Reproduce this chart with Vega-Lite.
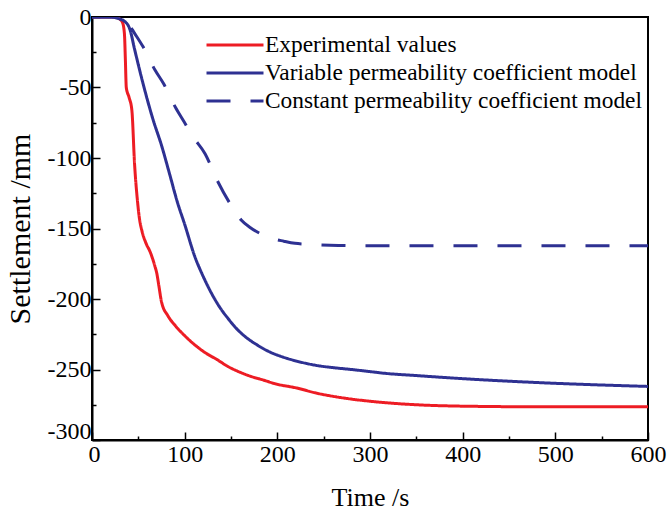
{
  "$schema": "https://vega.github.io/schema/vega-lite/v6.json",
  "width": 556,
  "height": 423,
  "autosize": {"type": "none"},
  "padding": {"left": 92, "top": 17, "right": 19, "bottom": 78},
  "background": "white",
  "config": {
    "view": {"stroke": "black", "strokeWidth": 2},
    "font": "Liberation Serif",
    "axis": {
      "domainColor": "black", "domainWidth": 2,
      "tickColor": "black", "tickWidth": 1.5,
      "labelFont": "Liberation Serif", "labelFontSize": 24, "labelColor": "black",
      "titleFont": "Liberation Serif", "titleFontSize": 26, "titleFontWeight": "normal", "titleColor": "black",
      "grid": false
    },
    "legend": {
      "labelFont": "Liberation Serif", "labelFontSize": 23.4, "labelColor": "black", "labelLimit": 0
    }
  },
  "data": {"values": [
    {"series": "Experimental values", "t": 0, "s": 0},
    {"series": "Experimental values", "t": 25, "s": 0},
    {"series": "Experimental values", "t": 30, "s": -1.5},
    {"series": "Experimental values", "t": 33, "s": -4},
    {"series": "Experimental values", "t": 35, "s": -12},
    {"series": "Experimental values", "t": 36, "s": -30},
    {"series": "Experimental values", "t": 37, "s": -50},
    {"series": "Experimental values", "t": 40, "s": -57},
    {"series": "Experimental values", "t": 43, "s": -66},
    {"series": "Experimental values", "t": 46, "s": -105},
    {"series": "Experimental values", "t": 49, "s": -130},
    {"series": "Experimental values", "t": 51, "s": -142},
    {"series": "Experimental values", "t": 54, "s": -152},
    {"series": "Experimental values", "t": 58, "s": -160},
    {"series": "Experimental values", "t": 63, "s": -167},
    {"series": "Experimental values", "t": 68, "s": -177},
    {"series": "Experimental values", "t": 70, "s": -182},
    {"series": "Experimental values", "t": 72, "s": -190},
    {"series": "Experimental values", "t": 75, "s": -202},
    {"series": "Experimental values", "t": 82, "s": -212},
    {"series": "Experimental values", "t": 90, "s": -219},
    {"series": "Experimental values", "t": 100, "s": -226},
    {"series": "Experimental values", "t": 110, "s": -232},
    {"series": "Experimental values", "t": 122, "s": -238},
    {"series": "Experimental values", "t": 135, "s": -243},
    {"series": "Experimental values", "t": 147, "s": -248},
    {"series": "Experimental values", "t": 160, "s": -252},
    {"series": "Experimental values", "t": 172, "s": -255},
    {"series": "Experimental values", "t": 185, "s": -257.5},
    {"series": "Experimental values", "t": 197, "s": -260},
    {"series": "Experimental values", "t": 220, "s": -263},
    {"series": "Experimental values", "t": 244, "s": -267},
    {"series": "Experimental values", "t": 260, "s": -269},
    {"series": "Experimental values", "t": 280, "s": -271},
    {"series": "Experimental values", "t": 300, "s": -272.5},
    {"series": "Experimental values", "t": 316, "s": -273.5},
    {"series": "Experimental values", "t": 350, "s": -275},
    {"series": "Experimental values", "t": 400, "s": -276},
    {"series": "Experimental values", "t": 500, "s": -276.5},
    {"series": "Experimental values", "t": 600, "s": -276.5},
    {"series": "Variable permeability coefficient model", "t": 0, "s": 0},
    {"series": "Variable permeability coefficient model", "t": 20, "s": 0},
    {"series": "Variable permeability coefficient model", "t": 28, "s": -1},
    {"series": "Variable permeability coefficient model", "t": 35, "s": -3},
    {"series": "Variable permeability coefficient model", "t": 41, "s": -9},
    {"series": "Variable permeability coefficient model", "t": 46, "s": -23},
    {"series": "Variable permeability coefficient model", "t": 55, "s": -47},
    {"series": "Variable permeability coefficient model", "t": 66, "s": -73},
    {"series": "Variable permeability coefficient model", "t": 75, "s": -91},
    {"series": "Variable permeability coefficient model", "t": 84, "s": -112},
    {"series": "Variable permeability coefficient model", "t": 92, "s": -131},
    {"series": "Variable permeability coefficient model", "t": 100, "s": -147},
    {"series": "Variable permeability coefficient model", "t": 111, "s": -170},
    {"series": "Variable permeability coefficient model", "t": 120, "s": -184},
    {"series": "Variable permeability coefficient model", "t": 129, "s": -196},
    {"series": "Variable permeability coefficient model", "t": 138, "s": -206},
    {"series": "Variable permeability coefficient model", "t": 147, "s": -214},
    {"series": "Variable permeability coefficient model", "t": 156, "s": -221},
    {"series": "Variable permeability coefficient model", "t": 165, "s": -226.5},
    {"series": "Variable permeability coefficient model", "t": 178, "s": -232.5},
    {"series": "Variable permeability coefficient model", "t": 190, "s": -237},
    {"series": "Variable permeability coefficient model", "t": 203, "s": -240.5},
    {"series": "Variable permeability coefficient model", "t": 215, "s": -243},
    {"series": "Variable permeability coefficient model", "t": 230, "s": -245.5},
    {"series": "Variable permeability coefficient model", "t": 244, "s": -247.3},
    {"series": "Variable permeability coefficient model", "t": 262, "s": -248.8},
    {"series": "Variable permeability coefficient model", "t": 280, "s": -250},
    {"series": "Variable permeability coefficient model", "t": 300, "s": -251.5},
    {"series": "Variable permeability coefficient model", "t": 316, "s": -252.7},
    {"series": "Variable permeability coefficient model", "t": 350, "s": -254.3},
    {"series": "Variable permeability coefficient model", "t": 400, "s": -256.5},
    {"series": "Variable permeability coefficient model", "t": 450, "s": -258.3},
    {"series": "Variable permeability coefficient model", "t": 500, "s": -259.8},
    {"series": "Variable permeability coefficient model", "t": 550, "s": -261},
    {"series": "Variable permeability coefficient model", "t": 600, "s": -262},
    {"series": "Constant permeability coefficient model", "t": 0, "s": 0},
    {"series": "Constant permeability coefficient model", "t": 25, "s": 0},
    {"series": "Constant permeability coefficient model", "t": 34, "s": -1},
    {"series": "Constant permeability coefficient model", "t": 39, "s": -4.5},
    {"series": "Constant permeability coefficient model", "t": 46, "s": -11.6},
    {"series": "Constant permeability coefficient model", "t": 55, "s": -21},
    {"series": "Constant permeability coefficient model", "t": 68, "s": -37.6},
    {"series": "Constant permeability coefficient model", "t": 77, "s": -47},
    {"series": "Constant permeability coefficient model", "t": 90, "s": -64},
    {"series": "Constant permeability coefficient model", "t": 100, "s": -75},
    {"series": "Constant permeability coefficient model", "t": 108, "s": -84},
    {"series": "Constant permeability coefficient model", "t": 122, "s": -97},
    {"series": "Constant permeability coefficient model", "t": 136, "s": -117},
    {"series": "Constant permeability coefficient model", "t": 151, "s": -134.5},
    {"series": "Constant permeability coefficient model", "t": 161, "s": -144},
    {"series": "Constant permeability coefficient model", "t": 171, "s": -149.5},
    {"series": "Constant permeability coefficient model", "t": 181, "s": -153.4},
    {"series": "Constant permeability coefficient model", "t": 194, "s": -157},
    {"series": "Constant permeability coefficient model", "t": 207, "s": -159},
    {"series": "Constant permeability coefficient model", "t": 219, "s": -160.5},
    {"series": "Constant permeability coefficient model", "t": 237, "s": -161.3},
    {"series": "Constant permeability coefficient model", "t": 266, "s": -162},
    {"series": "Constant permeability coefficient model", "t": 300, "s": -162.2},
    {"series": "Constant permeability coefficient model", "t": 400, "s": -162.3},
    {"series": "Constant permeability coefficient model", "t": 600, "s": -162.3}
  ]},
  "mark": {"type": "line", "strokeWidth": 3, "interpolate": "monotone", "clip": true},
  "encoding": {
    "x": {
      "field": "t", "type": "quantitative",
      "scale": {"domain": [0, 600], "nice": false, "zero": false},
      "axis": {
        "title": "Time /s",
        "values": [0, 50, 100, 150, 200, 250, 300, 350, 400, 450, 500, 550, 600],
        "labelExpr": "datum.value % 100 === 0 ? '' + datum.value : ''",
        "labelOffset": {"condition": {"test": "datum.value === 0", "value": 2}, "value": 0},
        "tickSize": {"condition": {"test": "datum.value % 100 === 0", "value": -8}, "value": -4},
        "labelPadding": 10,
        "titlePadding": 18,
        "labelFlush": false
      }
    },
    "y": {
      "field": "s", "type": "quantitative",
      "scale": {"domain": [-300, 0], "nice": false, "zero": false},
      "axis": {
        "title": "Settlement /mm",
        "titleFontSize": 30,
        "values": [-300, -275, -250, -225, -200, -175, -150, -125, -100, -75, -50, -25, 0],
        "labelExpr": "datum.value % 50 === 0 ? '' + datum.value : ''",
        "labelOffset": {"condition": {"test": "datum.value === -300", "value": -9}, "value": 0},
        "tickSize": {"condition": {"test": "datum.value % 50 === 0", "value": -8}, "value": -4},
        "labelPadding": 9,
        "titlePadding": 12,
        "labelFlush": false
      }
    },
    "color": {
      "field": "series", "type": "nominal",
      "scale": {
        "domain": ["Experimental values", "Variable permeability coefficient model", "Constant permeability coefficient model"],
        "range": ["#ED1C24", "#2E3192", "#2E3192"]
      },
      "legend": {
        "title": null, "orient": "none", "legendX": 113, "legendY": 14,
        "symbolType": "stroke", "symbolSize": 3249, "symbolStrokeWidth": 3,
        "clipHeight": 28, "rowPadding": 0, "labelOffset": 0, "padding": 0,
        "encode": {"symbols": {"update": {"strokeDash": {"signal": "datum.value === 'Constant permeability coefficient model' ? [18, 21] : [1, 0]"}}}}
      }
    },
    "strokeDash": {
      "field": "series", "type": "nominal",
      "scale": {
        "domain": ["Experimental values", "Variable permeability coefficient model", "Constant permeability coefficient model"],
        "range": [[1, 0], [1, 0], [24, 20]]
      },
      "legend": null
    }
  }
}
